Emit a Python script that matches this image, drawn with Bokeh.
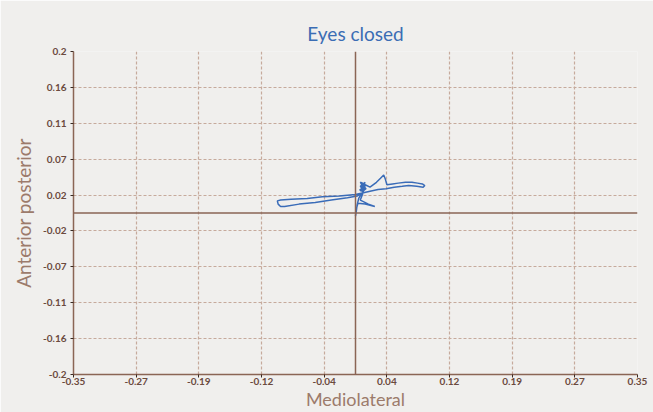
from bokeh.plotting import figure
from bokeh.models import Range1d, FixedTicker, Span
from bokeh.embed import file_html
from bokeh.resources import INLINE

# Tick values and labels
x_ticks = [-0.35 + k * 0.7 / 9 for k in range(10)]
x_tick_labels = ["-0.35", "-0.27", "-0.19", "-0.12", "-0.04", "0.04", "0.12", "0.19", "0.27", "0.35"]
y_ticks = [0.2 - k * 0.4 / 9 for k in range(10)]
y_tick_labels = ["0.2", "0.16", "0.11", "0.07", "0.02", "-0.02", "-0.07", "-0.11", "-0.16", "-0.2"]

# Centre-of-pressure trajectory
mediolateral = [0.008, 0.011, 0.006, 0.010, 0.005, 0.012, 0.008, 0.013, 0.007, 0.011, 0.006, 0.012,
                0.018, 0.026, 0.032, 0.035, 0.037, 0.039,
                0.046, 0.053, 0.062, 0.070, 0.077, 0.083, 0.086, 0.084, 0.076, 0.066,
                0.058, 0.048, 0.038, 0.028, 0.018, 0.010,
                0.000, -0.020, -0.041, -0.060, -0.080, -0.093, -0.097, -0.096, -0.093,
                -0.088, -0.070, -0.050, -0.030, -0.010, 0.002, 0.008,
                0.004, 0.002, 0.001, 0.000, 0.001, 0.003, 0.012, 0.024, 0.016, 0.006,
                0.009, 0.011, 0.007, 0.010, 0.006, 0.012, 0.008]
anterior_posterior = [0.030, 0.036, 0.038, 0.032, 0.028, 0.034, 0.026, 0.030, 0.037, 0.033, 0.027, 0.035,
                      0.032, 0.038, 0.044, 0.047, 0.042, 0.035,
                      0.036, 0.037, 0.038, 0.038, 0.037, 0.036, 0.034, 0.032, 0.033, 0.034,
                      0.033, 0.032, 0.030, 0.029, 0.027, 0.025,
                      0.023, 0.021, 0.020, 0.018, 0.017, 0.016, 0.015, 0.011, 0.008,
                      0.008, 0.011, 0.013, 0.016, 0.019, 0.021, 0.025,
                      0.018, 0.010, 0.002, -0.004, 0.005, 0.012, 0.011, 0.008, 0.011, 0.016,
                      0.024, 0.031, 0.035, 0.029, 0.033, 0.038, 0.031]

BG = "#f0efed"
AXIS = "#8a6555"
GRID = "#c6aa9c"
TICK_TEXT = "#6b4a3e"
LABEL = "#9c7b6b"
FONT = "Lato"

p = figure(width=653, height=412, output_backend="svg", toolbar_location=None,
           x_range=Range1d(-0.35, 0.35), y_range=Range1d(-0.2, 0.2),
           min_border_left=73, min_border_right=16, min_border_top=51, min_border_bottom=36,
           background_fill_color=BG, border_fill_color=BG, outline_line_color=None)

p.title.text = "Eyes closed"
p.title.align = "center"
p.title.text_font = FONT
p.title.text_font_size = "19px"
p.title.text_font_style = "normal"
p.title.text_color = "#3b6db4"
p.title.offset = 0
p.title.standoff = 13

p.xaxis.ticker = FixedTicker(ticks=x_ticks)
p.yaxis.ticker = FixedTicker(ticks=y_ticks)
p.xaxis.major_label_overrides = {t: l for t, l in zip(x_ticks, x_tick_labels)}
p.yaxis.major_label_overrides = {t: l for t, l in zip(y_ticks, y_tick_labels)}

for ax in (p.xaxis, p.yaxis):
    ax.axis_line_color = AXIS
    ax.axis_line_width = 1.5
    ax.major_tick_line_color = "#3a2a22"
    ax.major_tick_in = 0
    ax.major_tick_out = 3
    ax.minor_tick_line_color = None
    ax.major_label_text_font = FONT
    ax.major_label_text_font_size = "10px"
    ax.major_label_text_font_style = "bold"
    ax.major_label_text_color = TICK_TEXT
    ax.axis_label_text_font = FONT
    ax.axis_label_text_font_style = "normal"
    ax.axis_label_text_color = LABEL

p.xaxis.axis_label = "Mediolateral"
p.yaxis.axis_label = "Anterior posterior"
p.xaxis.axis_label_text_font_size = "18px"
p.yaxis.axis_label_text_font_size = "19px"
p.xaxis.major_label_standoff = 0
p.yaxis.major_label_standoff = 4
p.xaxis.axis_label_standoff = 0
p.yaxis.axis_label_standoff = 5

for g in (p.xgrid, p.ygrid):
    g.grid_line_color = GRID
    g.grid_line_dash = "3 2"
    g.grid_line_width = 1.2

p.add_layout(Span(location=0, dimension="height", line_color=AXIS, line_width=1.5))
p.add_layout(Span(location=0, dimension="width", line_color=AXIS, line_width=1.5))

p.line(mediolateral, anterior_posterior, line_color="#3a6cb8", line_width=1.5)

open("out.html", "w").write(file_html(p, INLINE))
